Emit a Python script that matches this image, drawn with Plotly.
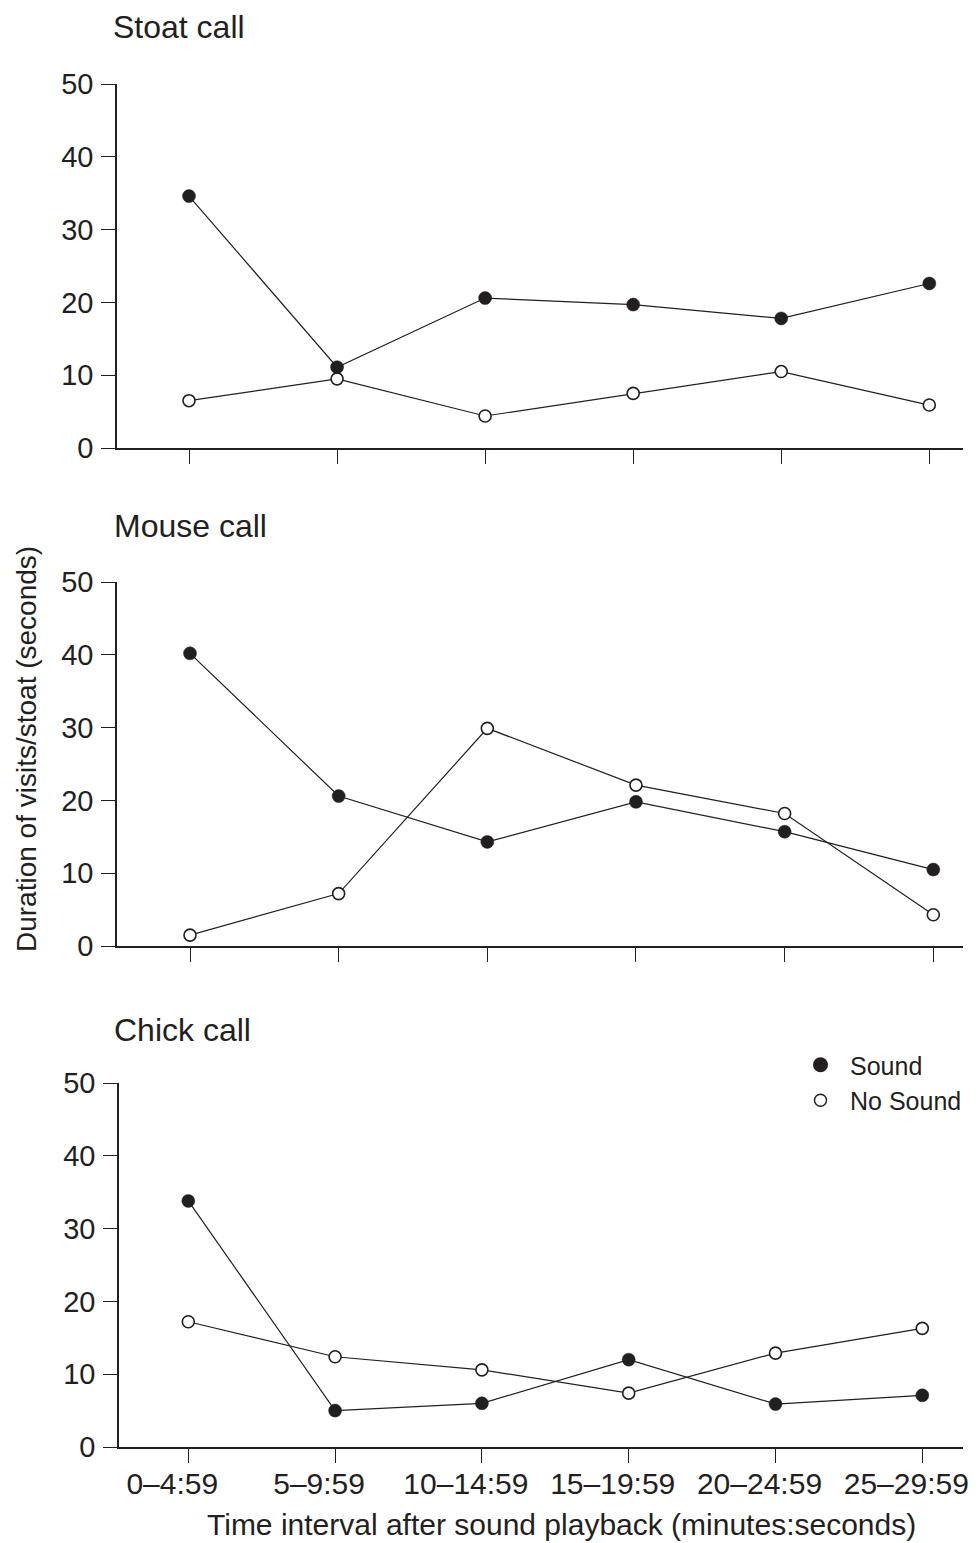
import plotly.graph_objects as go

categories = ["0–4:59", "5–9:59", "10–14:59", "15–19:59", "20–24:59", "25–29:59"]
panel_titles = ["Stoat call", "Mouse call", "Chick call"]

stoat_sound = [34.6, 11.1, 20.6, 19.7, 17.8, 22.6]
stoat_nosound = [6.5, 9.5, 4.4, 7.5, 10.5, 5.9]
mouse_sound = [40.2, 20.6, 14.3, 19.8, 15.7, 10.5]
mouse_nosound = [1.5, 7.2, 29.9, 22.1, 18.2, 4.3]
chick_sound = [33.8, 5.0, 6.0, 12.0, 5.9, 7.1]
chick_nosound = [17.2, 12.4, 10.6, 7.4, 12.9, 16.3]

y_ticks = [0, 10, 20, 30, 40, 50]
x_title = "Time interval after sound playback (minutes:seconds)"
y_title = "Duration of visits/stoat (seconds)"

OFF = 8  # page body margin
W, H = 980 - OFF, 1543 - OFF
INK = "#231f20"
FONT = "Liberation Sans, Arial, sans-serif"


def px(x):
    return (x - OFF) / W


def py(y):
    return 1 - (y - OFF) / H


idx = list(range(len(categories)))

fig = go.Figure()

panels = [
    (stoat_sound, stoat_nosound),
    (mouse_sound, mouse_nosound),
    (chick_sound, chick_nosound),
]

# screen geometry: (x_left, x_right, y_zero, y_fifty, first_tick, last_tick)
geo = [
    (117, 963, 448, 84, 189.0, 929.3),
    (117, 963, 946, 582, 190.0, 933.3),
    (119, 963, 1447, 1083, 188.3, 922.3),
]

for i, (snd, nos) in enumerate(panels):
    n = i + 1
    xa = "x" if n == 1 else f"x{n}"
    ya = "y" if n == 1 else f"y{n}"
    fig.add_trace(go.Scatter(
        x=idx, y=nos, xaxis=xa, yaxis=ya, mode="lines+markers",
        name="No Sound", showlegend=False,
        line=dict(color=INK, width=1.2),
        marker=dict(symbol="circle", size=12, color="white",
                    line=dict(color=INK, width=1.6)),
    ))
    fig.add_trace(go.Scatter(
        x=idx, y=snd, xaxis=xa, yaxis=ya, mode="lines+markers",
        name="Sound", showlegend=False,
        line=dict(color=INK, width=1.2),
        marker=dict(symbol="circle", size=13, color=INK,
                    line=dict(color=INK, width=0.5)),
    ))

# legend entries
fig.add_trace(go.Scatter(
    x=[None], y=[None], xaxis="x3", yaxis="y3", mode="markers", name="Sound",
    marker=dict(symbol="circle", size=15, color=INK), showlegend=True))
fig.add_trace(go.Scatter(
    x=[None], y=[None], xaxis="x3", yaxis="y3", mode="markers", name="No Sound",
    marker=dict(symbol="circle", size=12, color="white", line=dict(color=INK, width=1.4)),
    showlegend=True))

layout = dict(
    width=W, height=H,
    margin=dict(l=0, r=0, t=0, b=0, autoexpand=False),
    paper_bgcolor="white", plot_bgcolor="white",
    font=dict(family=FONT, color=INK, size=29),
    showlegend=True,
    legend=dict(x=px(791), y=py(1042), xanchor="left", yanchor="top",
                bgcolor="rgba(0,0,0,0)", font=dict(size=25, color=INK),
                itemwidth=49, tracegroupgap=0),
)

for i, (xl, xr, y0, y50, t0, t5) in enumerate(geo):
    n = i + 1
    sp = (t5 - t0) / 5.0
    rng = [(xl - t0) / sp, 5 + (xr - t5) / sp]
    xkey = "xaxis" if n == 1 else f"xaxis{n}"
    ykey = "yaxis" if n == 1 else f"yaxis{n}"
    ya = "y" if n == 1 else f"y{n}"
    xa = "x" if n == 1 else f"x{n}"
    layout[xkey] = dict(
        domain=[px(xl), px(xr)], range=rng, anchor=ya,
        tickmode="array", tickvals=idx,
        ticktext=categories if n == 3 else [""] * len(idx),
        showticklabels=(n == 3),
        ticks="outside", ticklen=14, tickwidth=1.3, tickcolor=INK,
        showline=True, linecolor=INK, linewidth=1.6,
        showgrid=False, zeroline=False, fixedrange=True, automargin=False,
        tickfont=dict(size=30, color=INK, family=FONT),
        ticklabelstandoff=-5, ticklabelshift=-16, ticklabeloverflow="allow",
    )
    layout[ykey] = dict(
        domain=[py(y0), py(y50)], range=[0, 50], anchor=xa,
        tickmode="array", tickvals=y_ticks,
        ticks="outside", ticklen=14, tickwidth=1.3, tickcolor=INK,
        showline=True, linecolor=INK, linewidth=1.6,
        showgrid=False, zeroline=False, fixedrange=True, automargin=False,
        tickfont=dict(size=29, color=INK, family=FONT),
        ticklabelstandoff=2, ticklabeloverflow="allow",
    )

fig.update_layout(**layout)

# panel titles: first one anchored to the top edge so it is not clipped
fig.add_annotation(text=panel_titles[0], x=px(112), y=1.0, xref="paper", yref="paper",
                   xanchor="left", yanchor="top", showarrow=False, borderpad=0,
                   font=dict(size=32, color=INK, family=FONT))
for t, ty in zip(panel_titles[1:], [526, 1030]):
    fig.add_annotation(text=t, x=px(112), y=py(ty), xref="paper", yref="paper",
                       xanchor="left", yanchor="middle", showarrow=False,
                       font=dict(size=32, color=INK, family=FONT))

fig.add_annotation(text=x_title, x=px(561.5), y=py(1524), xref="paper", yref="paper",
                   xanchor="center", yanchor="middle", showarrow=False,
                   font=dict(size=30, color=INK, family=FONT))
fig.add_annotation(text=y_title, x=px(26), y=py(749), xref="paper", yref="paper",
                   xanchor="center", yanchor="middle", showarrow=False, textangle=-90,
                   font=dict(size=28, color=INK, family=FONT))

fig.write_html("out.html")
